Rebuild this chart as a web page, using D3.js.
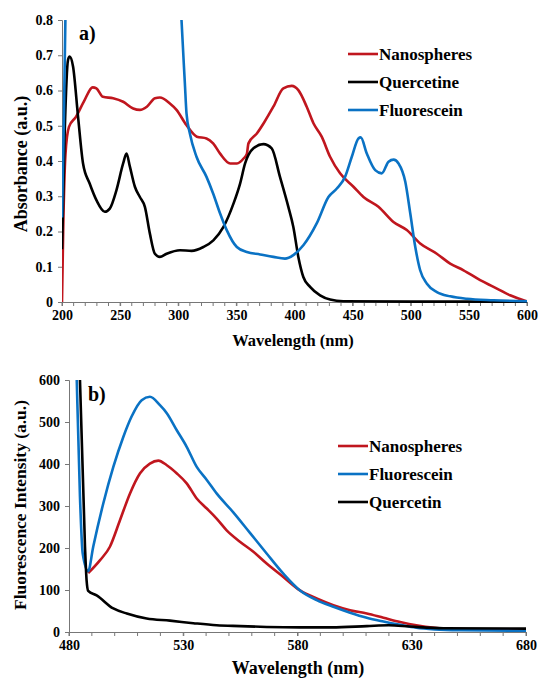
<!DOCTYPE html>
<html>
<head>
  <meta charset="utf-8">
  <title>Absorbance and fluorescence spectra</title>
  <script src="https://cdn.jsdelivr.net/npm/d3@7"></script>
  <style>
    body { margin: 0; background: #fff; }
    svg text { font-family: "Liberation Serif", "Times New Roman", serif; font-weight: bold; fill: #000; }
  </style>
</head>
<body>
<script>
// --- data ---
// panel a: absorbance, [wavelength nm, absorbance]
var absNano = [[200,0],[201,0.2],[203,0.42],[206,0.497],[212,0.525],[219,0.57],[226.4,0.609],[229.6,0.606],
  [235.3,0.582],[244,0.578],[252.6,0.568],[261.2,0.549],[267,0.545],[273,0.554],[280,0.578],[284.2,0.58],
  [292.8,0.563],[298.5,0.545],[307,0.502],[316,0.469],[324.3,0.464],[330,0.45],[336,0.421],[344.7,0.393],
  [350.5,0.393],[356.2,0.407],[359,0.42],[360.4,0.45],[367.6,0.478],[374,0.51],[381.8,0.554],[390.4,0.606],
  [397.6,0.613],[403.3,0.601],[410.5,0.554],[416.3,0.507],[423.4,0.469],[430.6,0.412],[439.2,0.365],
  [450.7,0.327],[459.3,0.298],[472.2,0.27],[485.1,0.227],[496.6,0.204],[508.1,0.166],[522.4,0.137],
  [533.9,0.109],[545.4,0.09],[559.7,0.062],[571.2,0.043],[585.5,0.019],[597,0.005],[600,0.002]];
var absQuer = [[200,0.15],[202.3,0.478],[205.2,0.687],[206.6,0.696],[209.5,0.668],[213.8,0.526],[218.1,0.393],
  [223.8,0.336],[229.6,0.289],[236.8,0.256],[241.1,0.265],[246.8,0.317],[252.6,0.393],[255.5,0.421],
  [258.4,0.384],[262.7,0.327],[267,0.298],[271.3,0.27],[275.6,0.194],[279.9,0.137],[284.2,0.128],[290,0.137],
  [301.5,0.147],[311.5,0.145],[321.6,0.156],[330.2,0.175],[338.9,0.213],[347.5,0.279],[353.2,0.336],
  [357.5,0.393],[364.7,0.436],[373.3,0.448],[380.4,0.436],[387.5,0.355],[394.7,0.27],[399,0.213],
  [403.3,0.128],[407.6,0.071],[413.4,0.043],[422,0.019],[430.6,0.007],[442,0.002],[500,0.001],[600,0.001]];
var absFluo = [[200,0.24],[201.5,0.5],[203,0.82],[205,1.5],[295,1.5],[302.8,0.8],[305.7,0.62],[307.1,0.535],
  [310,0.478],[315.7,0.412],[324.3,0.355],[330,0.308],[336,0.251],[341.7,0.204],[350.4,0.156],[359,0.142],
  [370.4,0.135],[381.8,0.128],[391.8,0.123],[399,0.133],[407.6,0.161],[419.1,0.223],[429.2,0.298],
  [436.4,0.322],[443.5,0.355],[449.3,0.412],[455,0.464],[457,0.467],[462.2,0.421],[469.4,0.374],
  [475.1,0.365],[480.9,0.398],[485.2,0.404],[489.5,0.393],[495.3,0.341],[499.6,0.251],[503.9,0.156],
  [508.1,0.09],[513.9,0.052],[522.5,0.028],[534,0.016],[548.3,0.009],[571.2,0.005],[600,0.002]];

// panel b: fluorescence, [wavelength nm, intensity]
var flNano = [[488.4,140],[493.6,171],[497.9,203],[502.3,266],[506.7,330],[511.1,378],[515.4,401],[519.1,408],
  [522.8,397],[527.1,378],[531.5,354],[535.9,318],[540.3,294],[544.6,270],[549,242],[554.8,215],[560.7,191],
  [566.5,163],[573.8,131],[581.1,99],[588.4,80],[595.7,64],[603,52],[610.3,44],[617.6,34],[624.9,24],
  [632,16],[640,10],[651,7],[665.7,6],[680,5]];
var flFluo = [[482.5,800],[483.4,600],[484.8,322],[486,187],[488.4,145],[490.6,203],[495,306],[499.4,393],
  [503.8,465],[507.4,513],[511.8,552],[515.4,560],[519.8,540],[522.8,521],[527.1,481],[531.5,441],
  [535.9,393],[540.3,362],[544.6,330],[551.9,285],[559.2,236],[566.5,187],[573.8,139],[581.1,99],[588.4,76],
  [595.7,60],[603,46],[610.3,34],[617.6,25],[624.9,17],[632,10],[640,6],[651,4],[680,3]];
var flQuer = [[484,800],[484.8,600],[487,203],[487.7,123],[488.4,98],[492.1,87],[499.4,56],[505.3,44],
  [514,32],[524.2,27],[534.4,21],[544.6,16],[555,14],[566.5,12],[581,11],[595,11],[610.3,14],
  [620,16],[629.2,13],[643.8,9],[680,8]];

var absTicks = [0, 0.1, 0.2, 0.3, 0.4, 0.5, 0.6, 0.7, 0.8];
var absXTicks = [200, 250, 300, 350, 400, 450, 500, 550, 600];
var flTicks = [0, 100, 200, 300, 400, 500, 600];
var flXTicks = [480, 530, 580, 630, 680];

var red = "#c0161e", blue = "#0a72c4", black = "#000";

var width = 538, height = 680;
var svg = d3.select("body").append("svg").attr("width", width).attr("height", height)
  .attr("font-family", "Liberation Serif");

function panel(opt) {
  var x = d3.scaleLinear().domain(opt.xDomain).range([opt.left, opt.right]);
  var y = d3.scaleLinear().domain(opt.yDomain).range([opt.bottom, opt.top]);
  var g = svg.append("g");

  g.append("clipPath").attr("id", opt.id)
    .append("rect").attr("x", opt.left).attr("y", opt.top)
    .attr("width", opt.right - opt.left).attr("height", opt.bottom - opt.top + 1);

  // minor x ticks every 10 nm
  var minor = d3.range(opt.xDomain[0], opt.xDomain[1] + 0.1, 10);
  g.selectAll(".minor").data(minor).enter().append("line")
    .attr("x1", d => x(d)).attr("x2", d => x(d))
    .attr("y1", opt.bottom).attr("y2", opt.bottom + 4)
    .attr("stroke", "#777").attr("stroke-width", 1);

  var xAxis = g.append("g").attr("transform", "translate(0," + opt.bottom + ")")
    .call(d3.axisBottom(x).tickValues(opt.xTicks).tickFormat(d3.format("d")).tickSize(4).tickPadding(4));
  var yAxis = g.append("g").attr("transform", "translate(" + opt.left + ",0)")
    .call(d3.axisLeft(y).tickValues(opt.yTicks).tickFormat(opt.yFormat).tickSize(4).tickPadding(5));
  [xAxis, yAxis].forEach(function (a) {
    a.attr("font-family", "Liberation Serif");
    a.select(".domain").attr("stroke", "#777");
    a.selectAll(".tick line").attr("stroke", "#777");
    a.selectAll("text").attr("font-size", 14).attr("font-weight", "bold").attr("fill", "#000");
  });

  var line = d3.line().x(d => x(d[0])).y(d => y(d[1])).curve(d3.curveMonotoneX);
  g.append("g").attr("clip-path", "url(#" + opt.id + ")")
    .selectAll("path").data(opt.series).enter().append("path")
    .attr("d", d => line(d.data))
    .attr("fill", "none").attr("stroke", d => d.color).attr("stroke-width", 2.6)
    .attr("stroke-linejoin", "round");

  // axis titles
  g.append("text").attr("x", opt.xTitleX).attr("y", opt.xTitleY)
    .attr("text-anchor", "middle").attr("font-size", opt.xTitleSize).text("Wavelength (nm)");
  var yt = g.append("text").attr("transform", "translate(" + opt.yTitleX + "," + opt.yTitleC + ") rotate(-90)")
    .attr("text-anchor", "middle").attr("font-size", opt.yTitleSize).text(opt.yTitle);
  if (opt.yTitleLen) yt.attr("textLength", opt.yTitleLen).attr("lengthAdjust", "spacingAndGlyphs");

  g.append("text").attr("x", opt.tagX).attr("y", opt.tagY).attr("font-size", 20).text(opt.tag);

  // legend
  var lg = g.selectAll(".lg").data(opt.series).enter().append("g")
    .attr("transform", (d, i) => "translate(" + opt.legX + "," + (opt.legY + i * 28) + ")");
  lg.append("line").attr("x1", 0).attr("x2", 30).attr("y1", 0).attr("y2", 0)
    .attr("stroke", d => d.color).attr("stroke-width", 2.6);
  lg.append("text").attr("x", 31).attr("y", 5.5).attr("font-size", 17).text(d => d.name);
}

panel({
  id: "clipA", left: 62, right: 527, top: 20, bottom: 302,
  xDomain: [200, 600], yDomain: [0, 0.8], xTicks: absXTicks, yTicks: absTicks,
  yFormat: d => d === 0 ? "0" : d3.format(".1f")(d),
  series: [{name: "Nanospheres", color: red, data: absNano},
           {name: "Quercetine", color: black, data: absQuer},
           {name: "Fluorescein", color: blue, data: absFluo}],
  xTitleX: 293, xTitleY: 346, xTitleSize: 16.5,
  yTitle: "Absorbance (a.u.)", yTitleC: 164, yTitleX: 27, yTitleSize: 18,
  tag: "a)", tagX: 79, tagY: 40, legX: 348, legY: 54
});

panel({
  id: "clipB", left: 69, right: 526, top: 380, bottom: 632,
  xDomain: [480, 680], yDomain: [0, 600], xTicks: flXTicks, yTicks: flTicks,
  yFormat: d3.format("d"),
  series: [{name: "Nanospheres", color: red, data: flNano},
           {name: "Fluorescein", color: blue, data: flFluo},
           {name: "Quercetin", color: black, data: flQuer}],
  xTitleX: 298, xTitleY: 674, xTitleSize: 18,
  yTitle: "Fluorescence Intensity (a.u.)", yTitleC: 505, yTitleX: 26, yTitleSize: 17, yTitleLen: 210,
  tag: "b)", tagX: 88, tagY: 401, legX: 338, legY: 446
});
</script>
</body>
</html>
